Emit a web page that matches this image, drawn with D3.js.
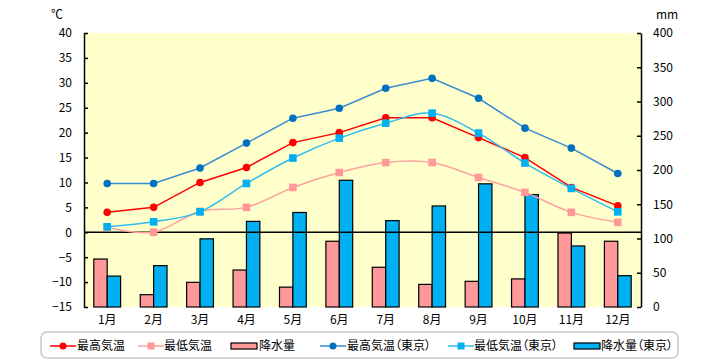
<!DOCTYPE html>
<html><head><meta charset="utf-8">
<script src="https://cdn.jsdelivr.net/npm/d3@7"></script>
<style>body{margin:0;background:#fff}svg{display:block}text{font-family:"Noto Sans CJK JP","Noto Sans",sans-serif}.lg{font-feature-settings:"palt" 1}</style>
</head><body>
<svg id="c" width="720" height="360"></svg>
<script>
const months = ["1月","2月","3月","4月","5月","6月","7月","8月","9月","10月","11月","12月"];
const maxTemp = [4,5,10,13,18,20,23,23,19,15,9,5.3];
const minTemp = [1,0,4.2,5,9,12,14,14,11,8,4,2];
const precip = [70,18,36,54,29,96,58,33,37.5,41,108,96];
const maxTempTokyo = [9.8,9.8,12.9,17.9,22.9,24.9,28.9,30.9,26.9,20.9,16.9,11.8];
const minTempTokyo = [1.1,2.1,4.1,9.8,14.9,18.9,21.9,23.9,19.9,13.9,8.8,4.1];
const precipTokyo = [45.1,60.4,99.5,125,138,185,126.1,147.5,179.8,164.1,89.1,45.7];
const tempTicks = [-15,-10,-5,0,5,10,15,20,25,30,35,40];
const precipTicks = [0,50,100,150,200,250,300,350,400];
const legendLabels = ["最高気温","最低気温","降水量","最高気温（東京）","最低気温（東京）","降水量（東京）"];

const svg = d3.select("#c");
const L=84, R=641, T=33, B=307;
const x = d3.scaleBand().domain(months).range([L,R]);
const yT = d3.scaleLinear().domain([-15,40]).range([B,T]);
const yP = d3.scaleLinear().domain([0,400]).range([B,T]);
const cx = m => x(m)+x.bandwidth()/2;
const bw = 13.4;

svg.append("rect").attr("x",L).attr("y",T).attr("width",R-L).attr("height",B-T).attr("fill","#FFFFCC");

// bars
svg.append("g").selectAll("rect").data(months).join("rect")
  .attr("x",m=>cx(m)-bw).attr("width",bw)
  .attr("y",(m,i)=>yP(precip[i])).attr("height",(m,i)=>B-yP(precip[i]))
  .attr("fill","#FF9999").attr("stroke","#000").attr("stroke-width",1.2);
svg.append("g").selectAll("rect").data(months).join("rect")
  .attr("x",m=>cx(m)).attr("width",bw)
  .attr("y",(m,i)=>yP(precipTokyo[i])).attr("height",(m,i)=>B-yP(precipTokyo[i]))
  .attr("fill","#00B0F0").attr("stroke","#000").attr("stroke-width",1.2);

// zero line
svg.append("line").attr("x1",L).attr("x2",R).attr("y1",yT(0)).attr("y2",yT(0)).attr("stroke","#000").attr("stroke-width",1.5);

function series(vals, color, lineColor, marker, smooth){
  const line = d3.line().x((d,i)=>cx(months[i])).y(d=>yT(d));
  if(smooth) line.curve(d3.curveCatmullRom.alpha(0));
  svg.append("path").attr("d",line(vals)).attr("fill","none").attr("stroke",lineColor).attr("stroke-width",1.5);
  const g = svg.append("g");
  if(marker==="circle"){
    g.selectAll("circle").data(vals).join("circle")
      .attr("cx",(d,i)=>cx(months[i])).attr("cy",d=>yT(d)).attr("r",3.8).attr("fill",color);
  } else {
    g.selectAll("rect").data(vals).join("rect")
      .attr("x",(d,i)=>cx(months[i])-3.8).attr("y",d=>yT(d)-3.8).attr("width",7.6).attr("height",7.6).attr("fill",color);
  }
}
series(minTemp,"#FF9999","#FFA0A0","square",true);
series(maxTemp,"#FF0000","#FF0000","circle",false);
series(minTempTokyo,"#00B0F0","#30BCEE","square",true);
series(maxTempTokyo,"#0070C0","#3A8CD0","circle",false);

// axes
const axL = svg.append("g").attr("transform",`translate(${L},0)`)
  .call(d3.axisLeft(yT).tickValues(tempTicks).tickSizeInner(-4).tickSizeOuter(0).tickPadding(12));
const axR = svg.append("g").attr("transform",`translate(${R},0)`)
  .call(d3.axisRight(yP).tickValues(precipTicks).tickSizeInner(-4).tickSizeOuter(0).tickPadding(12));
[axL,axR].forEach(a=>{
  a.selectAll("path,line").attr("stroke","#000").attr("stroke-width",1.5);
  a.selectAll("text").attr("font-size",12).attr("fill","#000");
});
const axB = svg.append("g").attr("transform",`translate(0,${B})`)
  .call(d3.axisBottom(x).tickSize(0).tickPadding(8));
axB.select(".domain").remove();
axB.selectAll("text").attr("font-size",12).attr("fill","#000");

svg.append("text").attr("x",57).attr("y",19).attr("text-anchor","middle").attr("font-size",12).text("℃");
svg.append("text").attr("x",667).attr("y",19).attr("text-anchor","middle").attr("font-size",12).text("mm");

// legend
svg.append("rect").attr("x",41).attr("y",332).attr("width",637).attr("height",26).attr("rx",6)
  .attr("fill","#fff").attr("stroke","#C8C8C8").attr("stroke-width",1.5);
const items = [
  {lx:50, tx:77, type:"circle", color:"#FF0000", line:"#FF0000"},
  {lx:138, tx:164, type:"square", color:"#FF9999", line:"#FFA0A0"},
  {lx:231, tx:259, type:"bar", color:"#FF9999"},
  {lx:320, tx:347, type:"circle", color:"#0070C0", line:"#3A8CD0"},
  {lx:448, tx:474, type:"square", color:"#00B0F0", line:"#30BCEE"},
  {lx:574, tx:601, type:"bar", color:"#00B0F0"}
];
const ly = 346;
items.forEach((it,i)=>{
  if(it.type==="bar"){
    svg.append("rect").attr("x",it.lx).attr("y",ly-3).attr("width",26).attr("height",6)
      .attr("fill",it.color).attr("stroke","#000").attr("stroke-width",1.2);
  } else {
    svg.append("line").attr("x1",it.lx).attr("x2",it.lx+26).attr("y1",ly).attr("y2",ly).attr("stroke",it.line).attr("stroke-width",1.5);
    if(it.type==="circle") svg.append("circle").attr("cx",it.lx+13).attr("cy",ly).attr("r",3.5).attr("fill",it.color);
    else svg.append("rect").attr("x",it.lx+9.5).attr("y",ly-3.5).attr("width",7).attr("height",7).attr("fill",it.color);
  }
  svg.append("text").attr("class","lg").attr("x",it.tx).attr("y",ly).attr("dy","0.36em").attr("font-size",12).text(legendLabels[i]);
});
</script>
</body></html>
